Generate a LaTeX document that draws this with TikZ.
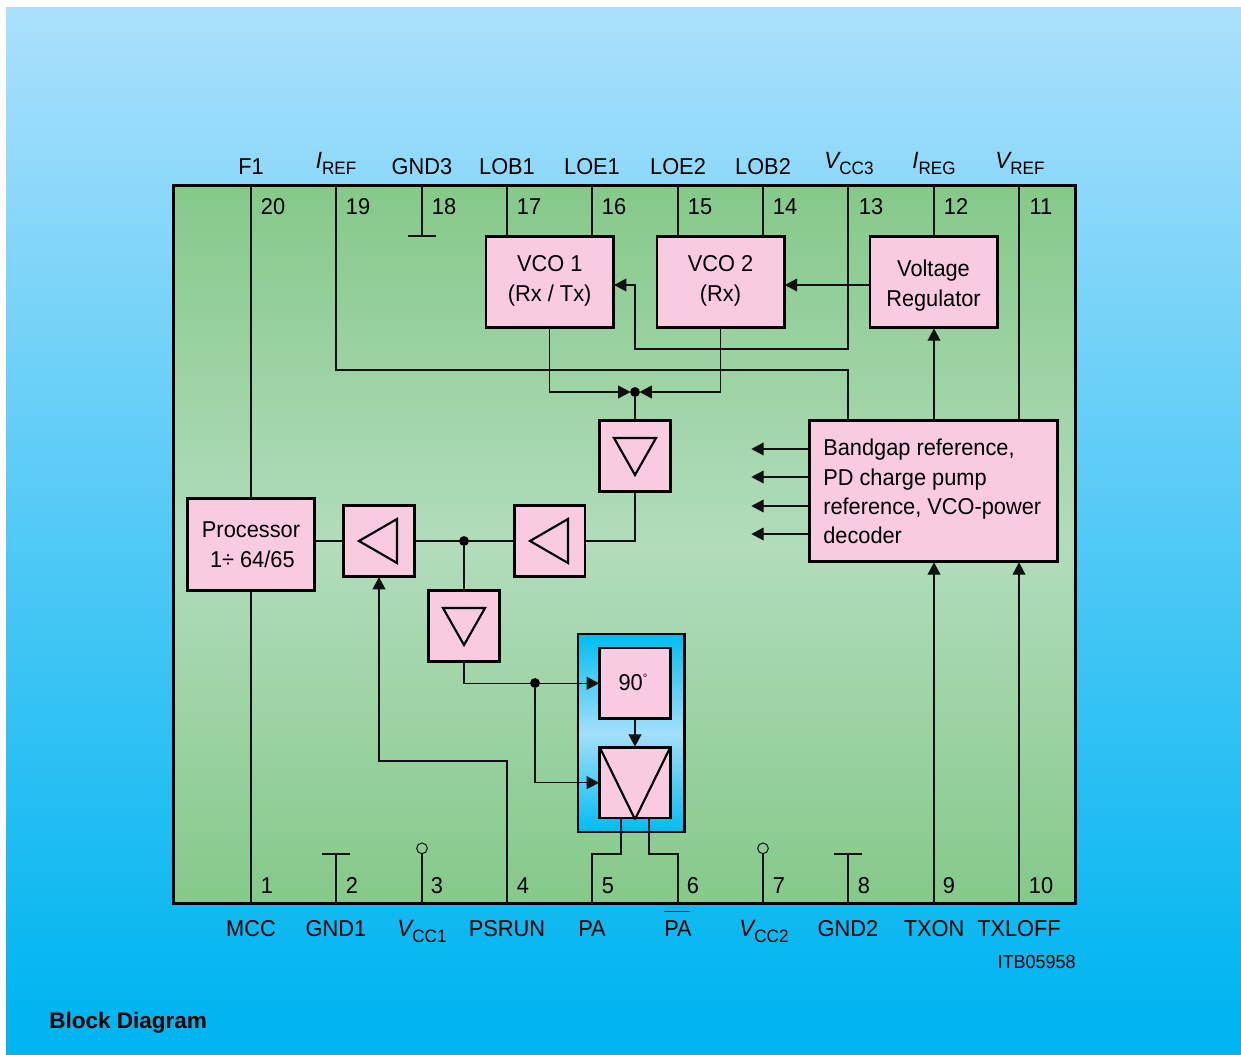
\documentclass[tikz,border=0pt]{standalone}
\usepackage{fontspec}
\setmainfont{Liberation Sans}[FakeStretch=0.95]
\newfontfamily\titlefont{Liberation Sans}[Scale=1]
\usetikzlibrary{arrows.meta,calc}
\definecolor{bgtop}{HTML}{ABE0FC}
\definecolor{bgbot}{HTML}{00B5F0}
\definecolor{greenedge}{HTML}{85C98A}
\definecolor{greenmid}{HTML}{B2DCBC}
\definecolor{pinkfill}{HTML}{F9CBE0}
\definecolor{bluemid}{HTML}{A3DFFB}
\definecolor{blueedge}{HTML}{00BDF2}
\definecolor{inkline}{HTML}{111111}
\pgfdeclareverticalshading{pagewash}{100bp}{color(0bp)=(bgbot); color(27bp)=(bgbot); color(75bp)=(bgtop); color(100bp)=(bgtop)}
\newcommand{\mainsize}{\fontsize{17.2pt}{22pt}\selectfont}
\newcommand{\subsize}{\fontsize{13.5pt}{18pt}\selectfont}
\newcommand{\pintop}[2]{\raisebox{4.5pt}{\itshape\fontsize{17.6pt}{22pt}\selectfont #1}{\subsize #2}}
\newcommand{\pinbot}[2]{{\itshape\fontsize{17.6pt}{22pt}\selectfont #1}\raisebox{-4.5pt}{\subsize #2}}
\tikzset{
  conn/.style={draw=inkline,line width=0.82pt},
  arr/.style={conn,-{Triangle[length=9.2pt,width=9.6pt]},shorten >=-0.5pt},
  blockbox/.style={draw=black,line width=2pt,fill=pinkfill,inner sep=0pt,align=center,font=\mainsize},
  bigbox/.style={blockbox,minimum width=95.5pt,minimum height=68.7pt},
  ampbox/.style={blockbox,minimum width=53pt,minimum height=53pt},
  tri/.style={draw=black,line width=1.6pt,line join=miter},
  txt/.style={inner sep=0pt,font=\mainsize,text=black},
  dotnode/.style={circle,fill=black,inner sep=0pt,minimum size=7.4pt},
  ringnode/.style={circle,draw=inkline,line width=0.75pt,inner sep=0pt,minimum size=8pt},
}
\begin{document}
\begin{tikzpicture}[x=0.75pt,y=-0.75pt]
\useasboundingbox (0,0) rectangle (1241,1055);
\shade[shading=pagewash] (6,8) rectangle (1241,1055);

% chip body
\node[draw=black,line width=2pt,top color=greenedge,bottom color=greenedge,middle color=greenmid,
  minimum width=676.5pt,minimum height=538.8pt,inner sep=0pt] (chip) at (624.3,544.5) {};

% pin coordinates
\foreach \n/\x in {p20/251,p19/336,p18/422,p17/507,p16/592,p15/678,p14/763,p13/848,p12/934,p11/1019}
  \coordinate (\n) at (\x,186);
\foreach \n/\x in {p1/251,p2/336,p3/422,p4/507,p5/592,p6/678,p7/763,p8/848,p9/934,p10/1019}
  \coordinate (\n) at (\x,904);

% blue frame
\node[draw=black,line width=2pt,top color=blueedge,bottom color=blueedge,middle color=bluemid,
  minimum width=80pt,minimum height=148.5pt,inner sep=0pt] (frame) at (631.3,733) {};

% blocks
\node[bigbox] (vcoa) at (549.7,282) {};
\node[bigbox] (vcob) at (720.5,282) {};
\node[bigbox] (reg) at (933.5,282) {};
\node[blockbox,minimum width=186.2pt,minimum height=106pt] (gap) at (933.5,491) {};
\node[bigbox] (proc) at (251,544.5) {};
\node[ampbox] (ampa) at (379,541) {};
\node[ampbox] (ampb) at (549.5,541) {};
\node[ampbox] (ampc) at (635,456) {};
\node[ampbox] (ampd) at (464,626) {};
\node[ampbox] (phase) at (635,683.3) {};
\node[ampbox] (mix) at (635,782.7) {};

% block texts
\node[txt,align=center] (vcoatext) at (549.7,281) {VCO 1\\[0.5pt](Rx / Tx)};
\node[txt,align=center] (vcobtext) at (720.5,281) {VCO 2\\[0.5pt](Rx)};
\node[txt,align=center] (regtext) at (933.5,286) {Voltage\\[0.5pt]Regulator};
\node[txt,align=left,anchor=west] (gaptext) at (823,491.5)
  {\baselineskip=22.1pt Bandgap reference,\\PD charge pump\\reference, VCO-power\\decoder\par};
\node[txt,align=center] (proctext) at (251,544.5) {Processor\\[0.5pt]\hspace{2pt}1÷ 64/65};
\node[txt] (phasetext) at (633,682) {90\raisebox{6pt}{\fontsize{9pt}{9pt}\selectfont °}};

% triangles
\draw[tri] (359,541) -- (397,519) -- (397,563) -- cycle;
\draw[tri] (530,541) -- (568,519) -- (568,563) -- cycle;
\draw[tri] (614,438) -- (656,438) -- (635,475) -- cycle;
\draw[tri] (443,608) -- (485,608) -- (464,645) -- cycle;
\draw[tri] (mix.north west) ++(1.5,1.5) -- (mix.south) ;
\draw[tri] (mix.north east) ++(-1.5,1.5) -- (mix.south);

% junction dots
\node[dotnode] (jtop) at (635,392) {};
\node[dotnode] (jmid) at (464,541) {};
\node[dotnode] (jlow) at (535,683) {};

% pins and connectors, top
\draw[conn] (p20) -- (p20 |- proc.north);
\draw[conn] (proc.south) -- (p1);
\draw[conn] (p19) -- (p19 |- 0,370) -- (p13 |- 0,370) -- (p13 |- gap.north);
\coordinate (tee18) at (422,236);
\draw[conn] (p18) -- (tee18);
\draw[conn] ($(tee18)+(-14,0)$) -- ($(tee18)+(14,0)$);
\draw[conn] (p17) -- (p17 |- vcoa.north);
\draw[conn] (p16) -- (p16 |- vcoa.north);
\draw[conn] (p15) -- (p15 |- vcob.north);
\draw[conn] (p14) -- (p14 |- vcob.north);
\draw[conn] (p12) -- (p12 |- reg.north);
\draw[conn] (p11) -- (p11 |- gap.north);
\coordinate (feed) at (0,285);
\draw[arr] (p13) -- (p13 |- 0,349) -- (jtop |- 0,349) -- (jtop |- feed) -- (vcoa.east |- feed);
\draw[arr] (reg.west |- feed) -- (vcob.east |- feed);
\draw[arr] (p12 |- gap.north) -- (p12 |- reg.south);
\draw[arr] (vcoa.south) -- (vcoa.south |- jtop) -- (jtop.west);
\draw[arr] (vcob.south) -- (vcob.south |- jtop) -- (jtop.east);
\draw[conn] (jtop) -- (ampc.north);

% decoder outputs
\foreach \y/\m in {449/a,477/b,506/c,534/d}{
  \coordinate (out\m) at (752,\y);
  \draw[arr] (gap.west |- out\m) -- (out\m);
}

% signal chain
\draw[conn] (ampc.south) -- (ampc.south |- ampb.east) -- (ampb.east);
\draw[conn] (ampb.west) -- (ampa.east);
\draw[conn] (proc.east |- ampa.west) -- (ampa.west);
\draw[conn] (jmid) -- (ampd.north);
\draw[arr] (ampd.south) -- (ampd.south |- phase.west) -- (phase.west);
\draw[arr] (jlow) -- (jlow |- mix.west) -- (mix.west);
\draw[arr] (phase.south) -- (mix.north);
\draw[arr] (p4) -- (p4 |- 0,761) -- (ampa.south |- 0,761) -- (ampa.south);

% pins bottom
\coordinate (tee2) at (336,854);
\draw[conn] (p2) -- (tee2);
\draw[conn] ($(tee2)+(-14,0)$) -- ($(tee2)+(14,0)$);
\coordinate (tee8) at (848,854);
\draw[conn] (p8) -- (tee8);
\draw[conn] ($(tee8)+(-14,0)$) -- ($(tee8)+(14,0)$);
\node[ringnode] (ring3) at (422,848.3) {};
\node[ringnode] (ring7) at (763,848.3) {};
\draw[conn] (p3) -- (ring3.south);
\draw[conn] (p7) -- (ring7.south);
\draw[conn] (621,819) -- (621,854) -- (p5 |- 0,854) -- (p5);
\draw[conn] (649,819) -- (649,854) -- (p6 |- 0,854) -- (p6);
\draw[arr] (p9) -- (p9 |- gap.south);
\draw[arr] (p10) -- (p10 |- gap.south);

% pin numbers
\foreach \t/\x in {20/273,19/358,18/444,17/529,16/614,15/700,14/785,13/871,12/956,11/1041}
  \node[txt,anchor=base] (num\t) at (\x,215) {\t};
\foreach \t/\x in {1/267,2/352,3/437,4/523,5/608,6/693,7/779,8/864,9/949,10/1041}
  \node[txt,anchor=base] (num\t) at (\x,893) {\t};

% pin names, top
\def\ty{175}
\node[txt,anchor=base] (nF) at (251,\ty) {F1};
\node[txt,anchor=base] (nI) at (336,\ty) {\pintop{I}{REF}};
\node[txt,anchor=base] (nG) at (422,\ty) {GND3};
\node[txt,anchor=base] (nLa) at (507,\ty) {LOB1};
\node[txt,anchor=base] (nLb) at (592,\ty) {LOE1};
\node[txt,anchor=base] (nLc) at (678,\ty) {LOE2};
\node[txt,anchor=base] (nLd) at (763,\ty) {LOB2};
\node[txt,anchor=base] (nV) at (849,\ty) {\pintop{V}{CC3}};
\node[txt,anchor=base] (nR) at (934,\ty) {\pintop{I}{REG}};
\node[txt,anchor=base] (nW) at (1020,\ty) {\pintop{V}{REF}};
% pin names, bottom
\def\by{936}
\node[txt,anchor=base] (bA) at (251,\by) {MCC};
\node[txt,anchor=base] (bB) at (336,\by) {GND1};
\node[txt,anchor=base] (bC) at (422,\by) {\pinbot{V}{CC1}};
\node[txt,anchor=base] (bD) at (507,\by) {PSRUN};
\node[txt,anchor=base] (bE) at (592,\by) {PA};
\node[txt,anchor=base] (bF) at (678,\by) {\rlap{\raisebox{18pt}{\rule{19.6pt}{0.8pt}}}PA};
\node[txt,anchor=base] (bG) at (764,\by) {\pinbot{V}{CC2}};
\node[txt,anchor=base] (bH) at (848,\by) {GND2};
\node[txt,anchor=base] (bI) at (934,\by) {TXON};
\node[txt,anchor=base] (bJ) at (1019,\by) {TXLOFF};
\node[inner sep=0pt,anchor=base east,font=\fontsize{14.2pt}{16pt}\selectfont] (code) at (1076,968) {ITB05958};
\node[inner sep=0pt,anchor=base west,font=\titlefont\bfseries\fontsize{16.9pt}{20pt}\selectfont] (title) at (49,1028) {Block Diagram};
\end{tikzpicture}
\end{document}
